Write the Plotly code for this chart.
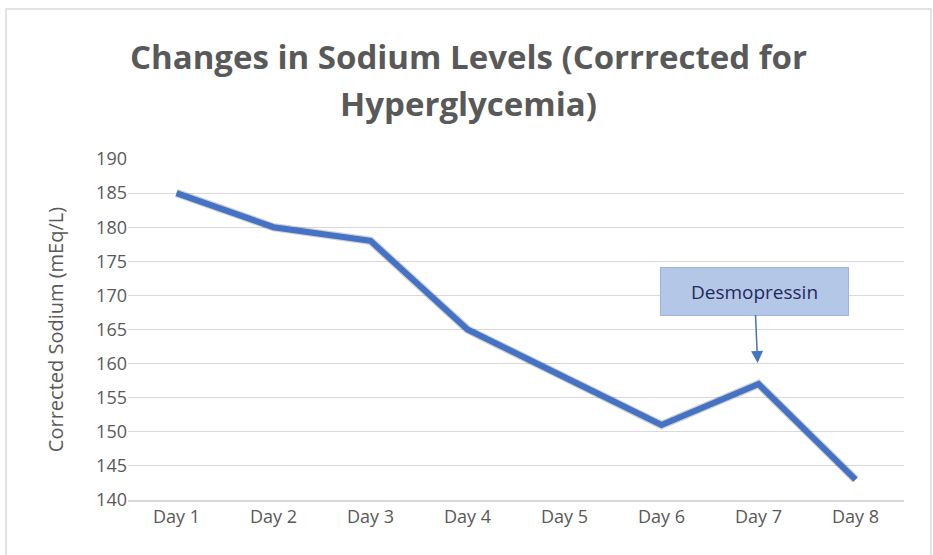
import plotly.graph_objects as go

days = ["Day 1", "Day 2", "Day 3", "Day 4", "Day 5", "Day 6", "Day 7", "Day 8"]
sodium = [185, 180, 178, 165, 158, 151, 157, 143]
y_ticks = [140, 145, 150, 155, 160, 165, 170, 175, 180, 185, 190]
title_lines = ["Changes in Sodium Levels (Corrrected for", "Hyperglycemia)"]

W, H = 933, 555
ML, MR, MT, MB = 128, 29, 159, 55
FONT = "Open Sans, sans-serif"
GREY = "#595959"

fig = go.Figure()
# soft shadow under line
fig.add_trace(go.Scatter(x=days, y=sodium, mode="lines",
                         line=dict(color="rgba(0,0,0,0.18)", width=8.5),
                         hoverinfo="skip", showlegend=False))
fig.add_trace(go.Scatter(x=days, y=sodium, mode="lines",
                         line=dict(color="#4472C4", width=6),
                         showlegend=False))

pw = W - ML - MR
ph = H - MT - MB
def px2paper_x(px):
    return (px - ML) / pw
def py2paper_y(py):
    return (H - MB - py) / ph

fig.add_shape(type="rect", xref="paper", yref="paper",
              x0=px2paper_x(6), x1=px2paper_x(931),
              y0=py2paper_y(560), y1=py2paper_y(9),
              line=dict(color="#D9D9D9", width=1.5), fillcolor="rgba(0,0,0,0)",
              layer="below")

# title, two lines
for txt, cy in zip(title_lines, [56, 104]):
    fig.add_annotation(x=px2paper_x(W / 2 + 2), y=py2paper_y(cy), xref="paper", yref="paper",
                       text="<b>" + txt + "</b>", showarrow=False,
                       xanchor="center", yanchor="middle",
                       font=dict(family=FONT, size=33, color=GREY))

fig.add_annotation(x="Day 7", y=157, xref="x", yref="y",
                   text="Desmopressin", showarrow=True,
                   ax=-4, ay=-93, axref="pixel", ayref="pixel",
                   standoff=21, arrowhead=2, arrowsize=1.6, arrowwidth=1.5,
                   arrowcolor="#4472C4",
                   bgcolor="#B4C7E7", bordercolor="#9DB5E0", borderwidth=1,
                   width=187, height=47, borderpad=0,
                   font=dict(family=FONT, size=19, color="#1F2A5C"))

fig.update_layout(
    width=W, height=H,
    margin=dict(l=ML, r=MR, t=MT, b=MB),
    paper_bgcolor="white", plot_bgcolor="white",
    xaxis=dict(type="category", categoryorder="array", categoryarray=days,
               range=[-0.5, 7.5], showgrid=False, showline=True,
               linecolor="#D9D9D9", linewidth=1.5, ticks="", ticklen=0,
               tickfont=dict(family=FONT, size=18, color=GREY)),
    yaxis=dict(range=[140, 190], tickvals=y_ticks, showgrid=True,
               gridcolor="#D9D9D9", gridwidth=1, zeroline=False, showline=False,
               ticks="", ticklen=0,
               title=dict(text="Corrected Sodium (mEq/L)", standoff=27,
                          font=dict(family=FONT, size=20, color=GREY)),
               tickfont=dict(family=FONT, size=18, color=GREY)),
)

fig.write_html("out.html", config={"displayModeBar": False},
               post_script="document.body.style.margin='0';")
